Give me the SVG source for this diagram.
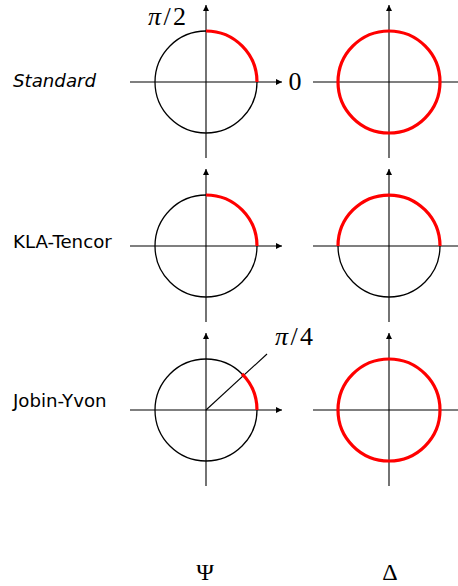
<svg xmlns="http://www.w3.org/2000/svg" width="458" height="586" viewBox="0 0 458 586">
<style>
.ax{stroke:#000;stroke-width:1.1;fill:none}
.c{stroke:#000;stroke-width:1.3;fill:none}
.r{stroke:#f00;stroke-width:3.2;fill:none}
.lbl{font-family:"DejaVu Sans",sans-serif;font-size:18.2px;fill:#000}
.m{font-family:"Liberation Serif",serif;fill:#000}
</style>
<defs>
<marker id="ah" viewBox="0 0 10 10" refX="10" refY="5" markerWidth="8" markerHeight="6" markerUnits="userSpaceOnUse" orient="auto">
<path d="M0,0 L10,5 L0,10 Z" fill="#000"/>
</marker>
</defs>
<rect width="458" height="586" fill="#fff"/>
<g id="connectors">
<line class="ax" x1="130" y1="82" x2="282" y2="82" marker-end="url(#ah)"/>
<line class="ax" x1="206" y1="158" x2="206" y2="5" marker-end="url(#ah)"/>
<line class="ax" x1="313" y1="82" x2="460" y2="82"/>
<line class="ax" x1="389" y1="158" x2="389" y2="5" marker-end="url(#ah)"/>
<line class="ax" x1="130" y1="246" x2="282" y2="246" marker-end="url(#ah)"/>
<line class="ax" x1="206" y1="322" x2="206" y2="169" marker-end="url(#ah)"/>
<line class="ax" x1="313" y1="246" x2="460" y2="246"/>
<line class="ax" x1="389" y1="322" x2="389" y2="169" marker-end="url(#ah)"/>
<line class="ax" x1="130" y1="410" x2="282" y2="410" marker-end="url(#ah)"/>
<line class="ax" x1="206" y1="486" x2="206" y2="333" marker-end="url(#ah)"/>
<line class="ax" x1="313" y1="410" x2="460" y2="410"/>
<line class="ax" x1="389" y1="486" x2="389" y2="333" marker-end="url(#ah)"/>
<line class="ax" x1="206" y1="410" x2="267" y2="354"/>
</g>
<g id="standard-psi">
<circle class="c" cx="206" cy="82" r="51"/>
<path class="r" d="M206,31 A51,51 0 0 1 257,82"/>
</g>
<g id="standard-delta">
<circle class="r" cx="389" cy="82" r="51"/>
</g>
<g id="kla-psi">
<circle class="c" cx="206" cy="246" r="51"/>
<path class="r" d="M206,195 A51,51 0 0 1 257,246"/>
</g>
<g id="kla-delta">
<circle class="c" cx="389" cy="246" r="51"/>
<path class="r" d="M338,246 A51,51 0 0 1 440,246"/>
</g>
<g id="jy-psi">
<circle class="c" cx="206" cy="410" r="51"/>
<path class="r" d="M242.06,373.94 A51,51 0 0 1 257,410"/>
</g>
<g id="jy-delta">
<circle class="r" cx="389" cy="410" r="51"/>
</g>
<g id="labels">
<text class="lbl" x="13" y="87" font-style="italic">Standard</text>
<text class="lbl" x="13" y="248">KLA-Tencor</text>
<text class="lbl" x="13" y="407">Jobin-Yvon</text>
<text class="m" x="148" y="25" font-size="26" textLength="38" lengthAdjust="spacing"><tspan font-style="italic">π</tspan>/2</text>
<text class="m" x="295" y="90" font-size="26" text-anchor="middle">0</text>
<text class="m" x="275" y="344.5" font-size="26" textLength="38" lengthAdjust="spacing"><tspan font-style="italic">π</tspan>/4</text>
<text class="m" x="205" y="580" font-size="24" text-anchor="middle">Ψ</text>
<text class="m" x="390" y="580" font-size="24" text-anchor="middle">Δ</text>
</g>
</svg>
